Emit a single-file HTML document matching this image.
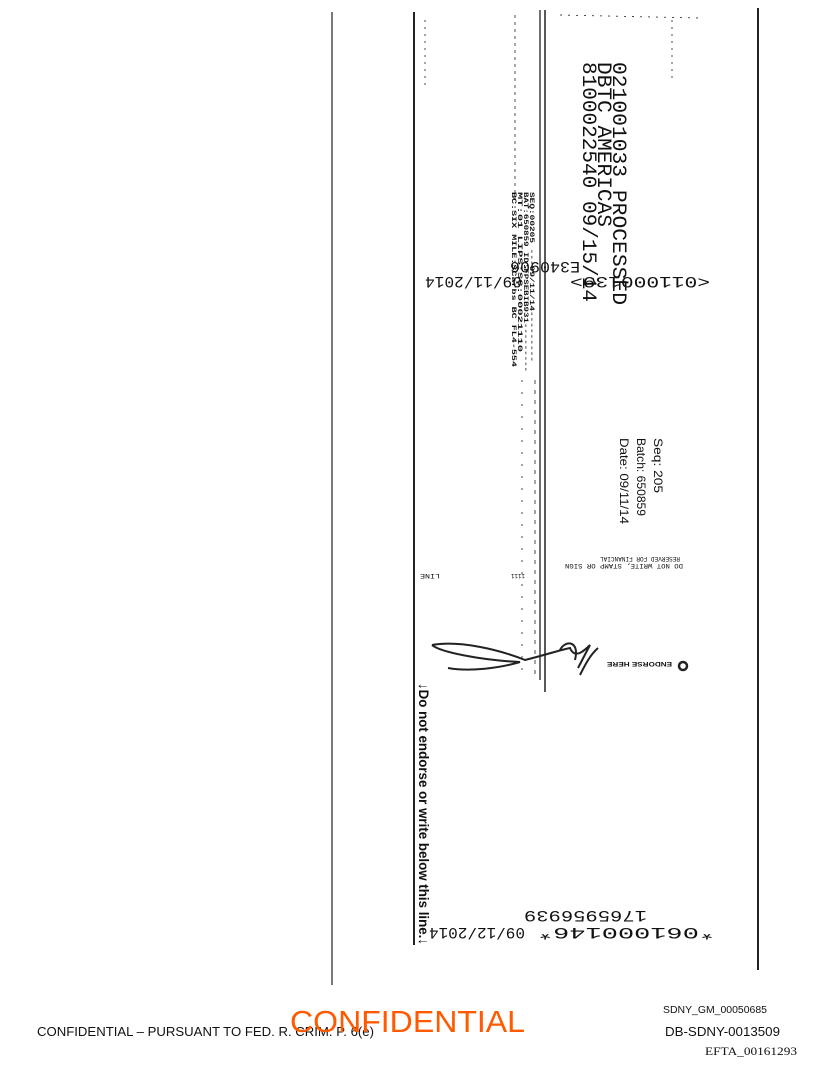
<!DOCTYPE html>
<html><head><meta charset="utf-8"><style>
html,body{margin:0;padding:0;background:#fff;}
svg{display:block}
</style></head><body>
<svg width="816" height="1073" viewBox="0 0 816 1073" xmlns="http://www.w3.org/2000/svg">
<g stroke="#222" fill="none">
<line x1="332" y1="12" x2="332" y2="985" stroke-width="1.2"/>
<line x1="414" y1="12" x2="414" y2="945" stroke-width="2"/>
<line x1="540" y1="10" x2="540" y2="680" stroke-width="1.3"/>
<line x1="545" y1="10" x2="545" y2="692" stroke-width="1.5"/>
<line x1="758" y1="8" x2="758" y2="970" stroke-width="2"/>
<line x1="515" y1="15" x2="515" y2="200" stroke-width="0.8" stroke-dasharray="3,4"/>
<line x1="535" y1="380" x2="535" y2="680" stroke-width="0.8" stroke-dasharray="4,6"/>
<line x1="522" y1="380" x2="522" y2="680" stroke-width="0.8" stroke-dasharray="2,10"/>
<line x1="560" y1="15" x2="700" y2="18" stroke-width="0.8" stroke-dasharray="2,6"/>
<line x1="672" y1="20" x2="672" y2="80" stroke-width="0.8" stroke-dasharray="2,5"/>
<line x1="425" y1="20" x2="425" y2="90" stroke-width="0.8" stroke-dasharray="2,5"/>
<path d="M432 645 C460 640,500 650,525 660 C545 655,560 650,570 648 C575 660,585 650,590 645 L578 668 M432 645 C440 652,480 660,520 662 C500 668,470 672,448 668 M560 650 C565 640,580 640,575 660 M598 648 C590 655,585 665,580 675" stroke-width="2"/>
<circle cx="683" cy="666" r="4" stroke-width="2.5"/>
</g>
<g font-family="Liberation Mono, monospace" fill="#111">
<text transform="translate(613,62) rotate(90)" font-size="20" textLength="243" lengthAdjust="spacingAndGlyphs">021001033  PROCESSED</text>
<text transform="translate(598,62) rotate(90)" font-size="20" textLength="165" lengthAdjust="spacingAndGlyphs">DBTC AMERICAS</text>
<text transform="translate(583,62) rotate(90)" font-size="20" textLength="240" lengthAdjust="spacingAndGlyphs">8100022540  09/15/14</text>
<text transform="translate(710,277) rotate(180)" font-size="16" textLength="140" lengthAdjust="spacingAndGlyphs">&lt;011000139&gt;</text>
<text transform="translate(522,277) rotate(180)" font-size="16" textLength="97" lengthAdjust="spacingAndGlyphs">09/11/2014</text>
<text transform="translate(580,262) rotate(180)" font-size="16" textLength="70" lengthAdjust="spacingAndGlyphs">E340906</text>
<text transform="translate(715,928) rotate(180)" font-size="16" textLength="178" lengthAdjust="spacingAndGlyphs">*061000146*</text>
<text transform="translate(525,928) rotate(180)" font-size="16" textLength="96" lengthAdjust="spacingAndGlyphs">09/12/2014</text>
<text transform="translate(647,911) rotate(180)" font-size="16" textLength="123" lengthAdjust="spacingAndGlyphs">1765956939</text>
<g font-size="6.5" font-weight="bold">
<text transform="translate(530,192) rotate(90)" textLength="170" lengthAdjust="spacingAndGlyphs">SEQ:00205 ---09/11/14---------</text>
<text transform="translate(524,192) rotate(90)" textLength="180" lengthAdjust="spacingAndGlyphs">BAT:650859 ID:FPSEBIB931---------</text>
<text transform="translate(518,192) rotate(90)" textLength="160" lengthAdjust="spacingAndGlyphs">MT:01 LIPS:SC:00021110</text>
<text transform="translate(512,192) rotate(90)" textLength="175" lengthAdjust="spacingAndGlyphs">BC:SIX MILE:SCarbs BC FL4-554</text>
</g>
<g font-size="6">
<text transform="translate(683,564) rotate(180)" textLength="118" lengthAdjust="spacingAndGlyphs">DO NOT WRITE, STAMP OR SIGN</text>
<text transform="translate(680,557) rotate(180)" textLength="80" lengthAdjust="spacingAndGlyphs">RESERVED FOR FINANCIAL</text>
<text transform="translate(440,574) rotate(180)" textLength="20" lengthAdjust="spacingAndGlyphs">LINE</text>
<text transform="translate(525,574) rotate(180)" textLength="14" lengthAdjust="spacingAndGlyphs">1111</text>
<text transform="translate(672,662) rotate(180)" textLength="65" lengthAdjust="spacingAndGlyphs" font-family="Liberation Sans, sans-serif" font-weight="bold">ENDORSE HERE</text>
</g>
</g>
<g font-family="Liberation Sans, sans-serif" fill="#111">
<text transform="translate(654,438) rotate(90)" font-size="12" textLength="55" lengthAdjust="spacingAndGlyphs">Seq: 205</text>
<text transform="translate(637,438) rotate(90)" font-size="12" textLength="78" lengthAdjust="spacingAndGlyphs">Batch: 650859</text>
<text transform="translate(620,438) rotate(90)" font-size="12" textLength="86" lengthAdjust="spacingAndGlyphs">Date: 09/11/14</text>
<text transform="translate(419,683) rotate(90)" font-size="14" font-weight="bold" textLength="262" lengthAdjust="spacingAndGlyphs">↓Do not endorse or write below this line.↓</text>
<text x="37" y="1036" font-size="13" textLength="337" lengthAdjust="spacingAndGlyphs">CONFIDENTIAL – PURSUANT TO FED. R. CRIM. P. 6(e)</text>
<text x="290" y="1032" font-size="31" fill="#ff5a00" textLength="235" lengthAdjust="spacingAndGlyphs">CONFIDENTIAL</text>
<text x="663" y="1013" font-size="10" textLength="104" lengthAdjust="spacingAndGlyphs">SDNY_GM_00050685</text>
<text x="665" y="1036" font-size="13" textLength="115" lengthAdjust="spacingAndGlyphs">DB-SDNY-0013509</text>
<text x="705" y="1055" font-size="12" font-family="Liberation Serif, serif" textLength="92" lengthAdjust="spacingAndGlyphs">EFTA_00161293</text>
</g>
</svg>
</body></html>
